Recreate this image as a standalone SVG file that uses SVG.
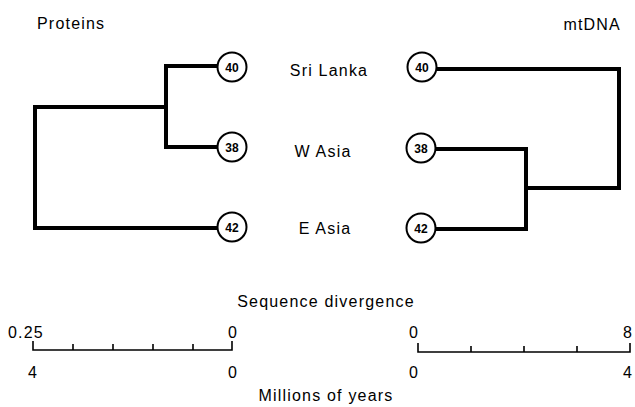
<svg xmlns="http://www.w3.org/2000/svg" width="635" height="407" viewBox="0 0 635 407">
  <style>
    .t { font-family: "Liberation Sans", Arial, sans-serif; font-size: 16px; fill: #000; letter-spacing: 1.2px; }
    .n { font-family: "Liberation Sans", Arial, sans-serif; font-size: 12px; font-weight: bold; fill: #000; text-anchor: middle; }
    .node circle { fill: #fff; stroke: #000; stroke-width: 2; }
    .br { fill: none; stroke: #000; stroke-width: 4; stroke-linejoin: miter; stroke-linecap: square; }
    .ax { fill: none; stroke: #000; stroke-width: 1.6; }
  </style>
  <rect width="635" height="407" fill="#fff"/>

  <!-- headings -->
  <text class="t" x="37" y="29">Proteins</text>
  <text class="t" x="621" y="30" text-anchor="end">mtDNA</text>

  <!-- tree branches -->
  <g id="connectors">
    <!-- protein tree -->
    <path class="br" d="M218 66 H166 V147 H218"/>
    <path class="br" d="M166 107 H35 V228 H218"/>
    <!-- mtDNA tree -->
    <path class="br" d="M437 69 H619 V188 H526"/>
    <path class="br" d="M437 149 H526 V229 H437"/>
  </g>

  <!-- protein leaves -->
  <g id="p40" class="node"><circle cx="232" cy="67" r="14.5"/><text class="n" x="232" y="71.5">40</text></g>
  <g id="p38" class="node"><circle cx="232" cy="147" r="14.5"/><text class="n" x="232" y="151.5">38</text></g>
  <g id="p42" class="node"><circle cx="232" cy="227" r="14.5"/><text class="n" x="232" y="231.5">42</text></g>

  <!-- population names -->
  <g id="lbl-sri"><text class="t" x="329" y="76" text-anchor="middle">Sri Lanka</text></g>
  <g id="lbl-wasia"><text class="t" x="323" y="157" text-anchor="middle">W Asia</text></g>
  <g id="lbl-easia"><text class="t" x="325" y="234" text-anchor="middle">E Asia</text></g>

  <!-- mtDNA leaves -->
  <g id="m40" class="node"><circle cx="422" cy="67" r="14.5"/><text class="n" x="422" y="71.5">40</text></g>
  <g id="m38" class="node"><circle cx="421" cy="148" r="14.5"/><text class="n" x="421" y="152.5">38</text></g>
  <g id="m42" class="node"><circle cx="421" cy="228" r="14.5"/><text class="n" x="421" y="232.5">42</text></g>

  <!-- scales -->
  <text class="t" x="326" y="307" text-anchor="middle">Sequence divergence</text>
  <text class="t" x="326" y="401" text-anchor="middle">Millions of years</text>

  <g id="scale-proteins">
    <path class="ax" d="M33 341 V350 H232 V341 M73 350 V344 M113 350 V344 M153 350 V344 M193 350 V344"/>
    <text class="t" x="8" y="338" letter-spacing="2.5">0.25</text>
    <text class="t" x="233" y="338" text-anchor="middle">0</text>
    <text class="t" x="33" y="378" text-anchor="middle">4</text>
    <text class="t" x="233" y="378" text-anchor="middle">0</text>
  </g>

  <g id="scale-mtdna">
    <path class="ax" d="M418 343 V352 H630 V343 M471 352 V346 M524 352 V346 M577 352 V346"/>
    <text class="t" x="414" y="338" text-anchor="middle">0</text>
    <text class="t" x="628" y="338" text-anchor="middle">8</text>
    <text class="t" x="414" y="378" text-anchor="middle">0</text>
    <text class="t" x="628" y="378" text-anchor="middle">4</text>
  </g>
</svg>
